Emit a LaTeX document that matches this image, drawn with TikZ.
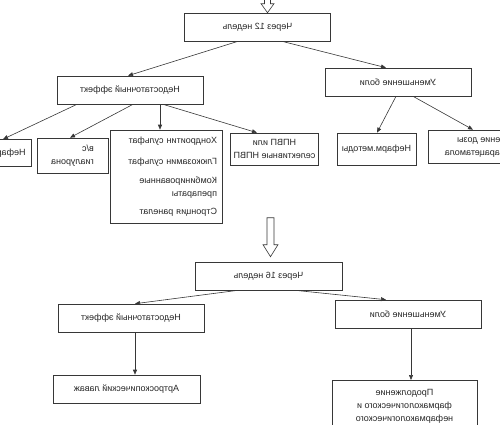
\documentclass[tikz,border=0pt]{standalone}
\usepackage{fontspec}
\setmainfont{Liberation Sans}
\usetikzlibrary{arrows.meta}
\definecolor{lineclr}{RGB}{55,55,55}

\begin{document}
\begin{tikzpicture}[
    x=1pt, y=-1pt,
    box/.style = {rectangle, draw=lineclr, line width=0.6pt, xscale=-1,
                  minimum width=146pt, minimum height=28pt, align=center,
                  font=\fontsize{9}{13}\selectfont, text=black!85, inner sep=3pt},
    arrow/.style = {-{Triangle[length=5pt, width=4pt]}, draw=lineclr, line width=0.6pt},
    hollow/.style = {draw=lineclr, line width=0.6pt, fill=white}
  ]
    \useasboundingbox (0,0) rectangle (500,424);

    % after 12 weeks
    \node[box] (w12) at (257.5,27) {Через 12 недель};
    \node[box] (ne1) at (130,90) {Недостаточный эффект};
    \node[box] (um1) at (398,82) {Уменьшение боли};

    \node[box, minimum width=80pt, minimum height=27pt] (nef1) at (-9,153) {Нефарм.методы};
    \node[box, minimum width=71pt, minimum height=35pt, align=left] (gia) at (72.5,155.5)
      {в/с\\гиалурона};
    \node[box, minimum width=112pt, minimum height=93pt, text width=102pt, align=left] (chond) at (166,176.5)
      {Хондроитин сульфат\\[8pt]
       Глюкозамин сульфат\\[6pt]
       Комбинированные\\препараты\\[5pt]
       Стронция ранелат};
    \node[box, minimum width=85pt, minimum height=32pt] (npvp) at (274.5,149)
      {НПВП или\\селективные НПВП};
    \node[box, minimum width=79pt, minimum height=32pt] (nef2) at (376.5,149) {Нефарм.методы};
    \node[box, minimum width=124pt, minimum height=33pt] (dose) at (490,146.5)
      {Снижение дозы\\НПВП /парацетамола};

    \draw[arrow] ([xshift=-19.5pt]w12.south) -- ([xshift=-2pt]ne1.north);
    \draw[arrow] ([xshift=24.5pt]w12.south) -- ([xshift=-12pt]um1.north);
    \draw[arrow] ([xshift=-53pt]ne1.south) -- ([xshift=12pt]nef1.north);
    \draw[arrow] ([xshift=3pt]ne1.south) -- ([xshift=-2.5pt]gia.north);
    \draw[arrow] ([xshift=30pt]ne1.south) -- ([xshift=-6pt]chond.north);
    \draw[arrow] ([xshift=33pt]ne1.south) -- ([xshift=-17.5pt]npvp.north);
    \draw[arrow] ([xshift=-2pt]um1.south) -- ([xshift=0.5pt]nef2.north);
    \draw[arrow] ([xshift=15pt]um1.south) -- ([xshift=-17pt]dose.north);

    \draw[hollow] ([xshift=10pt]w12.north) -- ++(6.5,-9) -- ++(-3.5,0) -- ++(0,-15)
      -- ++(-6,0) -- ++(0,15) -- ++(-3.5,0) -- cycle;

    % after 16 weeks
    \node[box, minimum width=147pt] (w16) at (268.5,276) {Через 16 недель};
    \node[box] (ne2) at (131,318) {Недостаточный эффект};
    \node[box] (um2) at (408,314) {Уменьшение боли};
    \node[box, minimum width=147pt] (art) at (126.5,389) {Артроскопический лаваж};
    \node[box, minimum width=145pt, anchor=north, inner ysep=9pt] (prod) at (404.5,380)
      {Продолжение\\фармакологического и\\нефармакологического\\лечения};

    \draw[hollow] ([xshift=2pt,yshift=5pt]w16.north) -- ++(7.5,-12) -- ++(-4,0) -- ++(0,-27)
      -- ++(-7,0) -- ++(0,27) -- ++(-4,0) -- cycle;

    \draw[arrow] ([xshift=-30.5pt]w16.south) -- ([xshift=4pt]ne2.north);
    \draw[arrow] ([xshift=26.5pt]w16.south) -- ([xshift=-22pt]um2.north);
    \draw[arrow] ([xshift=4pt]ne2.south) -- ([xshift=8.5pt]art.north);
    \draw[arrow] ([xshift=3pt]um2.south) -- ([xshift=6.5pt]prod.north);
\end{tikzpicture}
\end{document}
